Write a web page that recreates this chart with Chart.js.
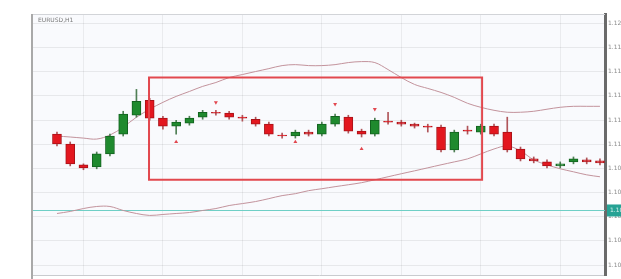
<!DOCTYPE html>
<html><head><meta charset="utf-8">
<script src="https://cdn.jsdelivr.net/npm/chart.js@4"></script>
<style>html,body{margin:0;padding:0;background:#fff;}#wrap{width:621px;height:279px;}</style>
</head><body><div id="wrap"><canvas id="c" width="621" height="279"></canvas></div>
<script>
const titleText = 'EURUSD,H1';
const opens  = [1.11084,1.11002,1.10830,1.10813,1.10920,1.11084,1.11240,1.11364,1.11216,1.11150,1.11175,1.11224,1.11265,1.11257,1.11224,1.11207,1.11166,1.11076,1.11068,1.11101,1.11084,1.11166,1.11224,1.11109,1.11084,1.11191,1.11183,1.11166,1.11150,1.11142,1.10953,1.11117,1.11101,1.11150,1.11101,1.10961,1.10879,1.10854,1.10821,1.10854,1.10871,1.10862];
const closes = [1.11002,1.10838,1.10805,1.10920,1.11068,1.11249,1.11355,1.11216,1.11150,1.11183,1.11216,1.11265,1.11257,1.11224,1.11216,1.11166,1.11084,1.11068,1.11101,1.11084,1.11166,1.11232,1.11109,1.11084,1.11199,1.11183,1.11166,1.11150,1.11142,1.10953,1.11101,1.11109,1.11150,1.11084,1.10953,1.10879,1.10862,1.10821,1.10838,1.10879,1.10854,1.10846];
const highs  = [1.11101,1.11019,1.10838,1.10936,1.11084,1.11273,1.11454,1.11380,1.11232,1.11199,1.11232,1.11281,1.11281,1.11273,1.11240,1.11224,1.11183,1.11092,1.11117,1.11117,1.11183,1.11249,1.11240,1.11125,1.11216,1.11265,1.11199,1.11175,1.11166,1.11158,1.11117,1.11150,1.11166,1.11166,1.11224,1.10977,1.10895,1.10871,1.10854,1.10895,1.10887,1.10879];
const lows   = [1.10986,1.10821,1.10789,1.10797,1.10904,1.11068,1.11224,1.11199,1.11125,1.11084,1.11158,1.11207,1.11240,1.11207,1.11191,1.11150,1.11068,1.11051,1.11051,1.11068,1.11068,1.11150,1.11092,1.11060,1.11068,1.11166,1.11150,1.11134,1.11101,1.10936,1.10936,1.11084,1.11084,1.11068,1.10936,1.10862,1.10846,1.10805,1.10805,1.10838,1.10838,1.10830];
const upperBand = [1.11068,1.11060,1.11051,1.11043,1.11076,1.11142,1.11224,1.11290,1.11347,1.11396,1.11437,1.11479,1.11511,1.11552,1.11577,1.11602,1.11626,1.11651,1.11659,1.11651,1.11651,1.11659,1.11676,1.11684,1.11676,1.11618,1.11552,1.11495,1.11462,1.11429,1.11388,1.11339,1.11306,1.11281,1.11265,1.11265,1.11273,1.11290,1.11306,1.11314,1.11314,1.11314];
const lowerBand = [1.10427,1.10444,1.10468,1.10485,1.10485,1.10452,1.10427,1.10411,1.10419,1.10427,1.10435,1.10452,1.10468,1.10493,1.10509,1.10526,1.10550,1.10575,1.10591,1.10616,1.10632,1.10649,1.10665,1.10682,1.10706,1.10731,1.10756,1.10780,1.10805,1.10830,1.10854,1.10879,1.10920,1.10961,1.10986,1.10945,1.10871,1.10830,1.10797,1.10772,1.10747,1.10731];
const fractalIdx = [9,12,18,21,23,24];
const fractalVal = [1.11019,1.11347,1.11019,1.11331,1.10961,1.11290];
const fractalAbove = [false,true,false,true,false,true];
const levelPrice = [1.10452];
const boxX = [6.95, 32.1];
const boxY = [1.11552, 1.10706];
const priceTicks = [1.10000,1.10200,1.10400,1.10600,1.10800,1.11000,1.11200,1.11400,1.11600,1.11800,1.12000];
const timeTickIdx = [2,8,14,20,26,32,38];
const timeLabels = ['12 Mar 04:00','12 Mar 12:00','12 Mar 20:00','13 Mar 04:00','13 Mar 12:00','13 Mar 20:00','14 Mar 04:00'];

const idx = opens.map((_, i) => i);
const up = idx.map(i => closes[i] >= opens[i]);
const bodyFill = idx.map(i => up[i] ? '#1f8a2e' : '#e3171f');
const bodyEdge = idx.map(i => up[i] ? '#13621f' : '#a81218');
const wickCol = idx.map(i => up[i] ? '#4f7f55' : '#b0555a');

const bgPlugin = {
  id: 'bg',
  beforeDraw(chart) {
    const {ctx, chartArea: a} = chart;
    ctx.save();
    ctx.fillStyle = '#ffffff';
    ctx.fillRect(0, 0, chart.width, chart.height);
    ctx.fillStyle = '#f9fafd';
    ctx.fillRect(a.left, a.top, a.right - a.left, a.bottom - a.top);
    ctx.restore();
  },
  beforeDatasetsDraw(chart) {
    const {ctx, chartArea: a, scales: {y}} = chart;
    ctx.save();
    ctx.strokeStyle = '#6fcfc6';
    ctx.lineWidth = 1;
    levelPrice.forEach(p => {
      const py = Math.round(y.getPixelForValue(p)) + 0.5;
      ctx.beginPath(); ctx.moveTo(a.left, py); ctx.lineTo(a.right, py); ctx.stroke();
    });
    ctx.restore();
  },
  afterDraw(chart) {
    const {ctx, chartArea: a, scales: {y}} = chart;
    ctx.save();
    ctx.strokeStyle = '#a9a9a9'; ctx.lineWidth = 2;
    ctx.beginPath(); ctx.moveTo(a.left - 1, a.top); ctx.lineTo(a.left - 1, chart.height); ctx.stroke();
    ctx.strokeStyle = '#d2d4d8'; ctx.lineWidth = 1;
    ctx.beginPath(); ctx.moveTo(a.left, a.top + 0.5); ctx.lineTo(a.right, a.top + 0.5); ctx.stroke();
    ctx.fillStyle = '#7a7a7a';
    ctx.font = '6px "DejaVu Sans"';
    ctx.textBaseline = 'middle';
    ctx.fillText(titleText, a.left + 5, a.top + 6);
    levelPrice.forEach(p => {
      const py = y.getPixelForValue(p);
      ctx.fillStyle = '#27a395';
      ctx.fillRect(a.right + 2, py - 6, 20, 12);
      ctx.fillStyle = '#d8f2ee';
      ctx.font = '6px "DejaVu Sans"';
      ctx.fillText(p.toFixed(5), a.right + 5, py);
    });
    ctx.restore();
  }
};

new Chart(document.getElementById('c'), {
  type: 'bar',
  data: {
    datasets: [
      { type: 'line', label: 'box',
        data: [{x: boxX[0], y: boxY[0]}, {x: boxX[1], y: boxY[0]}, {x: boxX[1], y: boxY[1]}, {x: boxX[0], y: boxY[1]}, {x: boxX[0], y: boxY[0]}],
        borderColor: '#e2484e', borderWidth: 2, pointRadius: 0, tension: 0, fill: false,
        borderJoinStyle: 'miter', borderCapStyle: 'square', order: 0 },
      { type: 'line', label: 'fractals',
        data: fractalIdx.map((i, k) => ({x: i, y: fractalVal[k]})),
        showLine: false, pointStyle: 'triangle', pointRadius: 2.3,
        pointRotation: fractalAbove.map(a => a ? 180 : 0),
        backgroundColor: '#e2474f', borderColor: '#e2474f', borderWidth: 0, order: 0 },
      { type: 'bar', label: 'body',
        data: idx.map(i => ({x: i, y: [opens[i], closes[i]]})),
        backgroundColor: bodyFill, borderColor: bodyEdge, borderWidth: 1, borderSkipped: false,
        barThickness: 9, grouped: false, order: 1 },
      { type: 'bar', label: 'wick',
        data: idx.map(i => ({x: i, y: [lows[i], highs[i]]})),
        backgroundColor: wickCol, borderWidth: 0, barThickness: 1, grouped: false, order: 2 },
      { type: 'line', label: 'upper',
        data: upperBand.map((v, i) => ({x: i, y: v})),
        borderColor: '#c3939c', borderWidth: 1, pointRadius: 0, tension: 0.35, fill: false, order: 3 },
      { type: 'line', label: 'lower',
        data: lowerBand.map((v, i) => ({x: i, y: v})),
        borderColor: '#c3939c', borderWidth: 1, pointRadius: 0, tension: 0.35, fill: false, order: 3 }
    ]
  },
  options: {
    responsive: false, animation: false, devicePixelRatio: 1,
    layout: { padding: { left: 33, top: 14, right: 0, bottom: 0 } },
    plugins: { legend: { display: false }, tooltip: { enabled: false }, title: { display: false } },
    scales: {
      x: {
        type: 'linear', min: -1.81, max: 41.38, offset: false,
        afterBuildTicks: s => { s.ticks = timeTickIdx.map(v => ({value: v})); },
        afterFit: s => { s.height = 2; s.paddingLeft = 0; s.paddingRight = 0; },
        ticks: { callback: (v, i) => timeLabels[i], color: '#c3c7cf', font: { size: 7, family: 'DejaVu Sans' }, padding: -11, maxRotation: 0, autoSkip: false },
        grid: { color: 'rgba(0,0,0,0.06)', drawTicks: false, offset: false },
        border: { display: true, color: '#c9cbcf', width: 1 }
      },
      y: {
        position: 'right', min: 1.09918, max: 1.12078,
        afterBuildTicks: s => { s.ticks = priceTicks.map(v => ({value: v})); },
        afterFit: s => { s.width = 16; s.paddingTop = 0; s.paddingBottom = 0; },
        ticks: { callback: v => Number(v).toFixed(5), color: '#8a8a8a', font: { size: 6, family: 'DejaVu Sans' }, padding: 3 },
        grid: { color: 'rgba(0,0,0,0.07)', drawTicks: false },
        border: { display: true, color: '#6a6a6a', width: 3 }
      }
    }
  },
  plugins: [bgPlugin]
});
</script>
</body></html>
